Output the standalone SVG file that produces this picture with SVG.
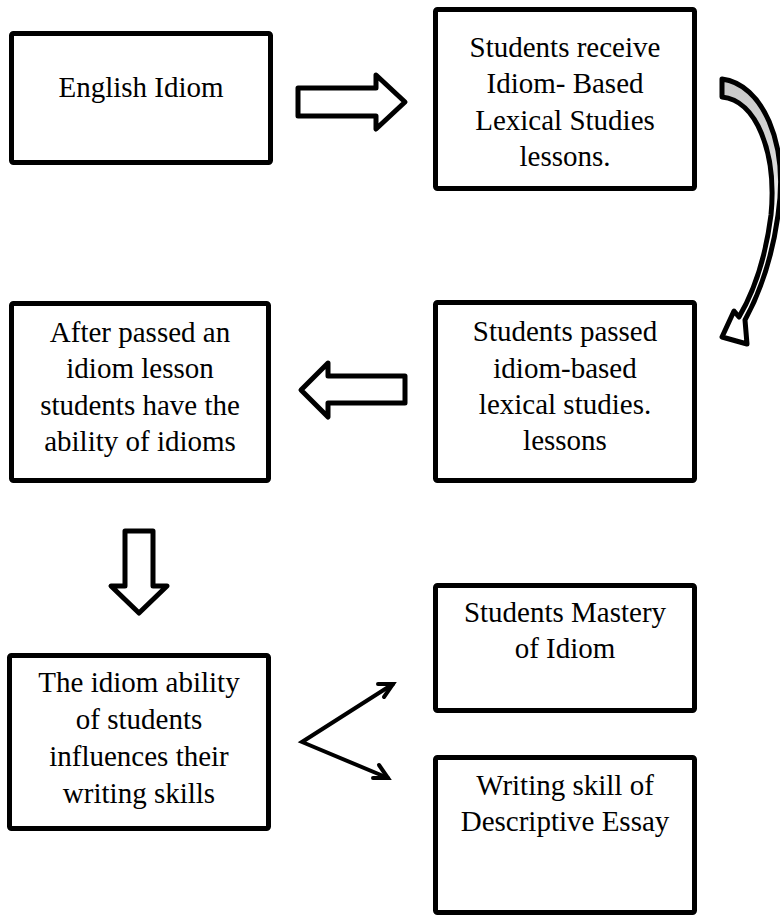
<svg xmlns="http://www.w3.org/2000/svg" width="780" height="920" viewBox="0 0 780 920">
<style>
.box{fill:#fff;stroke:#000;stroke-width:5;}
.t{font-family:"Liberation Serif","Times New Roman",serif;font-size:29px;fill:#000;text-anchor:middle;}
.blk{fill:#fff;stroke:#000;stroke-width:5;stroke-linejoin:round;}
.ln{fill:none;stroke:#000;stroke-width:4;stroke-linecap:round;}
</style>
<defs>
<linearGradient id="cg" x1="0" y1="0" x2="0" y2="1">
<stop offset="0" stop-color="#c8c8c8"/>
<stop offset="0.35" stop-color="#dcdcdc"/>
<stop offset="0.5" stop-color="#ffffff"/>
</linearGradient>
<marker id="ah" viewBox="0 0 12 12" refX="10" refY="6" markerWidth="12" markerHeight="12" markerUnits="userSpaceOnUse" orient="auto">
<path d="M1,1 L10,6 L1,11" fill="none" stroke="#000" stroke-width="2.2" stroke-linecap="round" stroke-linejoin="round"/>
</marker>
</defs>
<rect width="780" height="920" fill="#fff"/>
<g id="connectors">
<path class="blk" d="M298,88 L376,88 L376,75 L405,102 L376,129 L376,116 L298,116 Z"/>
<path class="blk" d="M722,79 C762,84 789,142 778,215 C771,266 757,298 745,320 L747,344 L722,337 L734,311 L739,317 C752,295 765,262 771,215 C777,152 756,100 722,97 Z" style="fill:url(#cg)"/>
<path class="blk" d="M405,376 L328,376 L328,363 L301,390 L328,417 L328,403 L405,403 Z"/>
<path class="blk" d="M125,531 L153,531 L153,586 L167,586 L139,613 L111,586 L125,586 Z"/>
<path class="ln" d="M393,684 L302,742 L388,778" marker-start="none"/>
<path class="ln" d="M378,684 L393,684 L384,697"/>
<path class="ln" d="M373,778 L388,778 L379,765"/>
</g>
<g id="n1"><rect class="box" x="11.5" y="33.5" width="259" height="129" rx="2"/><text class="t" x="141" y="97">English Idiom</text></g>
<g id="n2"><rect class="box" x="435.5" y="9.5" width="259" height="179" rx="2"/>
<text class="t" x="565" y="57">Students receive</text><text class="t" x="565" y="93">Idiom- Based</text><text class="t" x="565" y="130">Lexical Studies</text><text class="t" x="565" y="166">lessons.</text></g>
<g id="n3"><rect class="box" x="11.5" y="303.5" width="257" height="177" rx="2"/>
<text class="t" x="140" y="342">After passed an</text><text class="t" x="140" y="378">idiom lesson</text><text class="t" x="140" y="415">students have the</text><text class="t" x="140" y="451">ability of idioms</text></g>
<g id="n4"><rect class="box" x="435.5" y="302.5" width="259" height="178" rx="2"/>
<text class="t" x="565" y="341">Students passed</text><text class="t" x="565" y="378">idiom-based</text><text class="t" x="565" y="414">lexical studies.</text><text class="t" x="565" y="450">lessons</text></g>
<g id="n5"><rect class="box" x="9.5" y="655.5" width="259" height="173" rx="2"/>
<text class="t" x="139" y="692">The idiom ability</text><text class="t" x="139" y="729">of students</text><text class="t" x="139" y="766">influences their</text><text class="t" x="139" y="803">writing skills</text></g>
<g id="n6"><rect class="box" x="435.5" y="585.5" width="259" height="125" rx="2"/>
<text class="t" x="565" y="622">Students Mastery</text><text class="t" x="565" y="658">of Idiom</text></g>
<g id="n7"><rect class="box" x="435.5" y="757.5" width="259" height="155" rx="2"/>
<text class="t" x="565" y="795">Writing skill of</text><text class="t" x="565" y="831">Descriptive Essay</text></g>
</svg>
